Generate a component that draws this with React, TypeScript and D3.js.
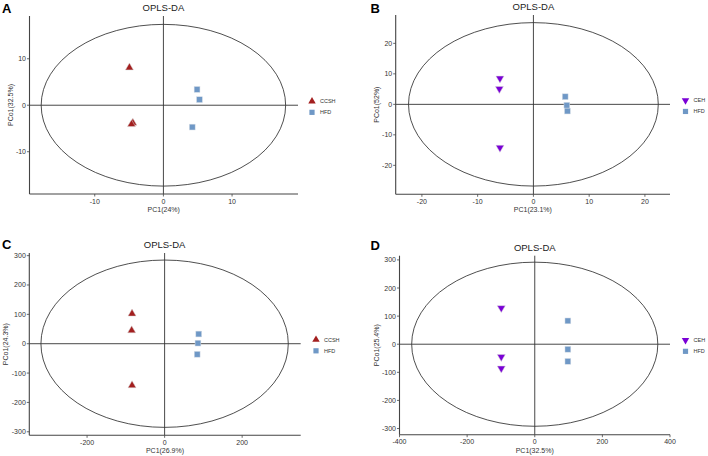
import * as d3 from "d3";

// score points: [PC1, PCo1]
const A_CCSH = [[-4.95, 8.1], [-4.45, -3.8], [-4.65, -4.1]];
const A_HFD = [[4.9, 3.4], [5.25, 1.2], [4.2, -4.7]];
const B_CEH = [[-6.0, 8.5], [-6.1, 5.1], [-6.0, -14.2]];
const B_HFD = [[5.7, 2.5], [6.0, -0.3], [6.1, -2.2]];
const C_CCSH = [[-84, 102], [-85, 45], [-84, -142]];
const C_HFD = [[88, 33], [86, 2], [84, -36]];
const D_CEH = [[-99, 129], [-99, -45], [-99, -86]];
const D_HFD = [[98, 83], [98, -18], [98, -61]];

const A_TICKS = [-10, 0, 10];
const B_TICKS = [-20, -10, 0, 10, 20];
const C_XTICKS = [-200, 0, 200];
const C_YTICKS = [-300, -200, -100, 0, 100, 200, 300];
const D_XTICKS = [-400, -200, 0, 200, 400];
const D_YTICKS = [-300, -200, -100, 0, 100, 200, 300];

const RED = "#a31f1f";
const BLUE = "#6f98c6";
const PURPLE = "#7a00d6";

const PANELS = [
  {
    letter: "A", left: 29.5, right: 298, top: 16, bottom: 194,
    xDomain: [-19.5, 19.6], yDomain: [-19.1, 19.2],
    xTicks: A_TICKS, yTicks: A_TICKS, ellipse: [17.8, 17.4],
    xLabel: "PC1(24%)", yLabel: "PCo1(32.5%)",
    group: "CCSH", groupPts: A_CCSH, hfd: A_HFD, down: false, color: RED,
    yLabelX: 11, legendX: 312, letterX: 2, letterY: 12.7,
  },
  {
    letter: "B", left: 395.7, right: 670, top: 15, bottom: 194.3,
    xDomain: [-24.7, 24.5], yDomain: [-29.5, 29.3],
    xTicks: B_TICKS, yTicks: B_TICKS, ellipse: [22.4, 26.8],
    xLabel: "PC1(23.1%)", yLabel: "PCo1(52%)",
    group: "CEH", groupPts: B_CEH, hfd: B_HFD, down: true, color: PURPLE,
    yLabelX: 377, legendX: 685.5, letterX: 370.5, letterY: 12.7,
  },
  {
    letter: "C", left: 29.3, right: 300.7, top: 253, bottom: 435.3,
    xDomain: [-349, 351], yDomain: [-312, 309],
    xTicks: C_XTICKS, yTicks: C_YTICKS, ellipse: [319, 285],
    xLabel: "PC1(26.9%)", yLabel: "PCo1(24.3%)",
    group: "CCSH", groupPts: C_CCSH, hfd: C_HFD, down: false, color: RED,
    yLabelX: 6.5, legendX: 316, letterX: 2, letterY: 249,
  },
  {
    letter: "D", left: 399.5, right: 670, top: 255.7, bottom: 434.7,
    xDomain: [-400, 400], yDomain: [-322, 315],
    xTicks: D_XTICKS, yTicks: D_YTICKS, ellipse: [364, 292],
    xLabel: "PC1(32.5%)", yLabel: "PCo1(25.4%)",
    group: "CEH", groupPts: D_CEH, hfd: D_HFD, down: true, color: PURPLE,
    yLabelX: 377, legendX: 685.5, letterX: 370.5, letterY: 250,
  },
];

const FONT = "'Liberation Sans', Arial, sans-serif";
const triangle = d3.symbol(d3.symbolTriangle, 28)();
const legendTriangle = d3.symbol(d3.symbolTriangle, 24)();

function Panel({ p }: { p: any }) {
  const x = d3.scaleLinear().domain(p.xDomain).range([p.left, p.right]);
  const y = d3.scaleLinear().domain(p.yDomain).range([p.bottom, p.top]);
  const cx = (p.left + p.right) / 2;
  const legendY = y(0);
  return (
    <g>
      <text x={p.letterX} y={p.letterY} fontSize={13} fontWeight="bold" fontFamily={FONT}>
        {p.letter}
      </text>
      <text x={x(0)} y={p.top - 5} textAnchor="middle" fontSize={9.5} fontFamily={FONT} fill="#222">
        OPLS-DA
      </text>

      <ellipse
        cx={x(0)} cy={y(0)}
        rx={x(p.ellipse[0]) - x(0)} ry={y(0) - y(p.ellipse[1])}
        fill="none" stroke="#222" strokeWidth={0.8}
      />
      <line x1={x(0)} x2={x(0)} y1={p.top} y2={p.bottom} stroke="#333" strokeWidth={0.9} />
      <line x1={p.left} x2={p.right} y1={y(0)} y2={y(0)} stroke="#333" strokeWidth={0.9} />

      <line x1={p.left} x2={p.left} y1={p.top} y2={p.bottom} stroke="#444" strokeWidth={1.1} />
      <line x1={p.left} x2={p.right} y1={p.bottom} y2={p.bottom} stroke="#444" strokeWidth={1.1} />

      {p.xTicks.map((t: number) => (
        <g key={`x${t}`}>
          <line x1={x(t)} x2={x(t)} y1={p.bottom} y2={p.bottom + 2.5} stroke="#444" strokeWidth={0.8} />
          <text x={x(t)} y={p.bottom + 9.5} textAnchor="middle" fontSize={7} fontFamily={FONT} fill="#333">
            {t}
          </text>
        </g>
      ))}
      {p.yTicks.map((t: number) => (
        <g key={`y${t}`}>
          <line x1={p.left - 2.5} x2={p.left} y1={y(t)} y2={y(t)} stroke="#444" strokeWidth={0.8} />
          <text x={p.left - 3.5} y={y(t) + 2.5} textAnchor="end" fontSize={7} fontFamily={FONT} fill="#333">
            {t}
          </text>
        </g>
      ))}

      <text x={cx} y={p.bottom + 18} textAnchor="middle" fontSize={7} fontFamily={FONT} fill="#333">
        {p.xLabel}
      </text>
      <text
        transform={`translate(${p.yLabelX} ${(p.top + p.bottom) / 2}) rotate(-90)`}
        textAnchor="middle" dominantBaseline="middle" fontSize={7} fontFamily={FONT} fill="#333"
      >
        {p.yLabel}
      </text>

      {p.hfd.map((d: number[], i: number) => (
        <rect key={`h${i}`} x={x(d[0]) - 2.9} y={y(d[1]) - 2.9} width={5.8} height={5.8}
          fill={BLUE} stroke="#d6dde6" strokeWidth={0.5} />
      ))}
      {p.groupPts.map((d: number[], i: number) => (
        <path key={`g${i}`} d={triangle}
          transform={`translate(${x(d[0])} ${y(d[1])})${p.down ? " rotate(180)" : ""}`}
          fill={p.color} stroke="#d9d9d9" strokeWidth={0.5} />
      ))}

      <path d={legendTriangle}
        transform={`translate(${p.legendX} ${legendY - 4})${p.down ? " rotate(180)" : ""}`}
        fill={p.color} />
      <text x={p.legendX + 8} y={legendY - 2} fontSize={5.5} fontFamily={FONT} fill="#333">
        {p.group}
      </text>
      <rect x={p.legendX - 2.6} y={legendY + 4.5} width={5.2} height={5.2} fill={BLUE} />
      <text x={p.legendX + 8} y={legendY + 9} fontSize={5.5} fontFamily={FONT} fill="#333">
        HFD
      </text>
    </g>
  );
}

export default function App() {
  return (
    <svg width={708} height={456} style={{ position: "absolute", left: 0, top: 0, background: "#fff" }}>
      <rect width={708} height={456} fill="#fff" />
      {PANELS.map((p) => (
        <Panel key={p.letter} p={p} />
      ))}
    </svg>
  );
}
